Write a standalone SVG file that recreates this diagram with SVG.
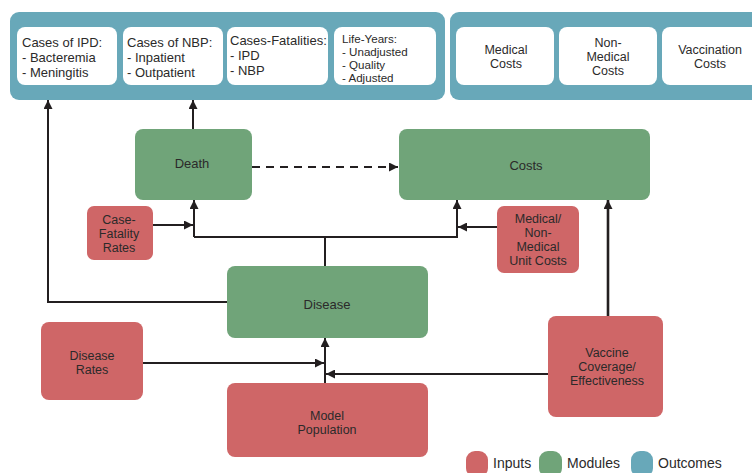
<svg xmlns="http://www.w3.org/2000/svg" width="752" height="473" viewBox="0 0 752 473">
<defs>
<style>
text{font-family:"Liberation Sans",Arial,sans-serif;font-size:13px;fill:#2b2a2a}
.c{text-anchor:middle}
.s{font-size:12.5px}
.ly{font-size:11.6px}
.panel{fill:#68a8b9}
.wb{fill:#fff}
.in{fill:#cf6667}
.mod{fill:#70a479}
.ln{fill:none;stroke:#231f20;stroke-width:2}
</style>
<marker id="ah" viewBox="0 0 10 10" refX="10" refY="5" markerWidth="9" markerHeight="9" markerUnits="userSpaceOnUse" orient="auto"><path d="M0,0 L10,5 L0,10 z" fill="#231f20"/></marker>
</defs>
<g id="outcomes-health">
<rect class="panel" x="10" y="12" width="435" height="88" rx="9"/>
<rect class="wb" x="17" y="27" width="100" height="58" rx="8"/>
<rect class="wb" x="123" y="27" width="100" height="58" rx="8"/>
<rect class="wb" x="227" y="27" width="101" height="58" rx="8"/>
<rect class="wb" x="334" y="27" width="102" height="58" rx="8"/>
<text x="22" y="47">Cases of IPD:</text><text x="22" y="62">- Bacteremia</text><text x="22" y="77">- Meningitis</text>
<text x="127" y="47">Cases of NBP:</text><text x="127" y="62">- Inpatient</text><text x="127" y="77">- Outpatient</text>
<text x="230" y="45">Cases-Fatalities:</text><text x="230" y="60">- IPD</text><text x="230" y="75">- NBP</text>
<text class="ly" x="342" y="43">Life-Years:</text><text class="ly" x="342" y="56">- Unadjusted</text><text class="ly" x="342" y="69">- Quality</text><text class="ly" x="342" y="82">- Adjusted</text>
</g>
<g id="outcomes-costs">
<rect class="panel" x="450" y="12" width="320" height="88" rx="9"/>
<rect class="wb" x="456" y="27" width="98" height="58" rx="8"/>
<rect class="wb" x="559" y="27" width="98" height="58" rx="8"/>
<rect class="wb" x="662" y="27" width="110" height="58" rx="8"/>
<text class="c s" x="506" y="54">Medical</text><text class="c s" x="506" y="68">Costs</text>
<text class="c s" x="608" y="47">Non-</text><text class="c s" x="608" y="61">Medical</text><text class="c s" x="608" y="75">Costs</text>
<text class="c s" x="710" y="54">Vaccination</text><text class="c s" x="710" y="68">Costs</text>
</g>
<g id="death"><rect class="mod" x="135" y="129" width="117" height="71" rx="8"/><text class="c" x="192" y="168">Death</text></g>
<g id="costs"><rect class="mod" x="399" y="129" width="251" height="71" rx="8"/><text class="c" x="526" y="170">Costs</text></g>
<g id="case-fatality"><rect class="in" x="87" y="206" width="66" height="54" rx="7"/><text class="c s" x="119" y="224">Case-</text><text class="c s" x="119" y="238">Fatality</text><text class="c s" x="119" y="252">Rates</text></g>
<g id="unit-costs"><rect class="in" x="497" y="206" width="82" height="67" rx="7"/><text class="c s" x="538" y="223">Medical/</text><text class="c s" x="538" y="237">Non-</text><text class="c s" x="538" y="251">Medical</text><text class="c s" x="538" y="265">Unit Costs</text></g>
<g id="disease"><rect class="mod" x="227" y="266" width="201" height="72" rx="8"/><text class="c" x="327" y="309">Disease</text></g>
<g id="disease-rates"><rect class="in" x="41" y="322" width="102" height="78" rx="8"/><text class="c s" x="92" y="360">Disease</text><text class="c s" x="92" y="374">Rates</text></g>
<g id="model-population"><rect class="in" x="227" y="383" width="201" height="74" rx="8"/><text class="c s" x="327" y="420">Model</text><text class="c s" x="327" y="434">Population</text></g>
<g id="vaccine"><rect class="in" x="548" y="316" width="115" height="101" rx="8"/><text class="c s" x="607" y="357">Vaccine</text><text class="c s" x="607" y="371">Coverage/</text><text class="c s" x="607" y="385">Effectiveness</text></g>
<g id="connectors">
<path class="ln" d="M193,129 V100" marker-end="url(#ah)"/>
<path class="ln" d="M227,302 H48 V100" marker-end="url(#ah)"/>
<path class="ln" d="M252,167 H398" stroke-dasharray="8,6" marker-end="url(#ah)"/>
<path class="ln" d="M325,266 V237 H194"/>
<path class="ln" d="M194,237 V200" marker-end="url(#ah)"/>
<path class="ln" d="M325,237 H457 V200" marker-end="url(#ah)"/>
<path class="ln" d="M153,225 H193" marker-end="url(#ah)"/>
<path class="ln" d="M497,227 H458" marker-end="url(#ah)"/>
<path class="ln" d="M608,316 V200" style="stroke-width:2.6" marker-end="url(#ah)"/>
<path class="ln" d="M548,374 H326" marker-end="url(#ah)"/>
<path class="ln" d="M143,363 H324" marker-end="url(#ah)"/>
<path class="ln" d="M325,383 V338" marker-end="url(#ah)"/>
</g>
<g id="legend">
<rect class="in" x="466" y="451" width="22" height="26" rx="9"/><text x="493" y="468" style="font-size:14px">Inputs</text>
<rect class="mod" x="539" y="451" width="23" height="26" rx="9"/><text x="567" y="468" style="font-size:14px">Modules</text>
<rect class="panel" x="631" y="451" width="22" height="26" rx="9"/><text x="658" y="468" style="font-size:14px">Outcomes</text>
</g>
</svg>
